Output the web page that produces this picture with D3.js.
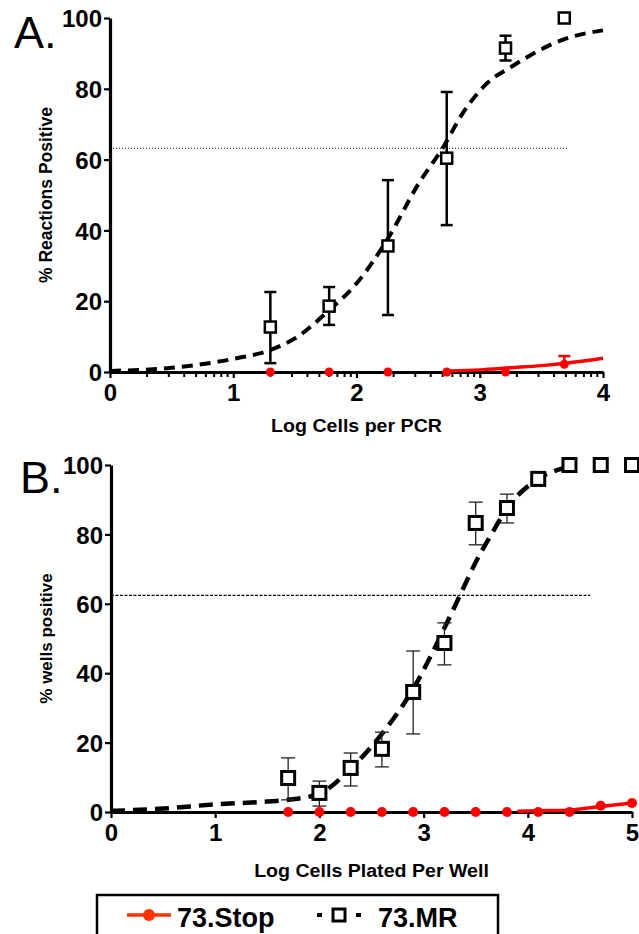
<!DOCTYPE html>
<html>
<head>
<meta charset="utf-8">
<script src="https://cdn.jsdelivr.net/npm/d3@7"></script>
<style>
  html, body { margin: 0; padding: 0; background: #fff; }
  svg { display: block; }
  text { font-family: "Liberation Sans", Arial, Helvetica, sans-serif; }
</style>
</head>
<body>
<svg id="chart" width="639" height="934"></svg>
<script>
// ---- Panel A: PCR dilution series ----
const aXTicks = [0, 1, 2, 3, 4];
const aYTicks = [0, 20, 40, 60, 80, 100];
const aLogCells = [1.301, 1.778, 2.255, 2.732, 3.209, 3.686];
const aMRMean = [12.7, 18.6, 35.6, 60.4, 91.5, 100];
const aMRLow  = [2.5, 13.3, 16.1, 41.5, 88.0, 100];
const aMRHigh = [22.6, 24.0, 54.2, 79.1, 95.0, 100];
const aStopMean = [0, 0, 0, 0, 0, 2.2];
const aStopHigh = [0, 0, 0, 0, 0, 4.5];
const aMRFitX = [0, 0.5, 1.0, 1.3, 1.5, 1.78, 2.0, 2.26, 2.5, 2.7, 2.86, 3.06, 3.27, 3.49, 3.71, 4.0];
const aMRFitY = [0.3, 1.2, 3.7, 6.2, 9.5, 17.5, 25, 38, 53, 63.3, 73, 81.6, 86.5, 91, 94.3, 96.5];
const aStopFitX = [2.75, 3.0, 3.25, 3.5, 3.7, 4.0];
const aStopFitY = [0.3, 0.6, 1.2, 1.8, 2.5, 3.9];
const aThreshold = 63.2;
const aThresholdEnd = 3.71;

// ---- Panel B: limiting-dilution plating ----
const bXTicks = [0, 1, 2, 3, 4, 5];
const bYTicks = [0, 20, 40, 60, 80, 100];
const bLogCells = [1.7, 2.0, 2.3, 2.6, 2.9, 3.2, 3.5, 3.8, 4.1, 4.4, 4.7, 5.0];
const bMRMean = [9.8, 5.5, 12.7, 18.2, 34.6, 48.7, 83.3, 87.6, 96.0, 100, 100, 100];
const bMRLow  = [3.5, 1.7, 7.5, 13.0, 22.5, 42.4, 77.0, 83.3, 94.0, 100, 100, 100];
const bMRHigh = [15.6, 8.9, 17.0, 23.0, 46.4, 54.5, 89.3, 91.6, 97.5, 100, 100, 100];
const bStopMean = [0, 0, 0, 0, 0, 0, 0, 0, 0, 0, 1.8, 2.6];
const bMRFitX = [0, 0.5, 1.0, 1.5, 1.7, 2.0, 2.3, 2.6, 2.9, 3.2, 3.35, 3.5, 3.65, 3.8, 4.1, 4.4];
const bMRFitY = [0.3, 1.0, 2.2, 3.0, 3.5, 5.3, 12.5, 22.5, 35.5, 53, 62.5, 72, 80, 87.5, 96, 99.5];
const bStopFitX = [3.9, 4.2, 4.4, 4.7, 5.0];
const bStopFitY = [0.2, 0.4, 0.6, 1.6, 2.6];
const bThreshold = 62.4;
const bThresholdEnd = 4.6;

// ---- Legend ----
const seriesNames = ["73.Stop", "73.MR"];

const RED = "#ff0000";
const LEGEND_RED = "#ff3300";
const svg = d3.select("#chart");
svg.append("rect").attr("width", 639).attr("height", 934).attr("fill", "#fff");

function drawPanel(p) {
  const g = svg.append("g");
  const x = d3.scaleLinear().domain([0, p.xMax]).range(p.xRange);
  const y = d3.scaleLinear().domain([0, 100]).range(p.yRange);

  // threshold reference line
  g.append("line")
    .attr("x1", x(0)).attr("x2", x(p.thresholdEnd))
    .attr("y1", y(p.threshold)).attr("y2", y(p.threshold))
    .attr("stroke", "#000").attr("stroke-width", p.thrWidth)
    .attr("stroke-dasharray", p.thrDash);

  // y axis
  const yAxis = g.append("g").attr("transform", `translate(${x(0)},0)`)
    .call(d3.axisLeft(y).tickValues(p.yTicks).tickFormat(d3.format("d"))
      .tickSize(6).tickSizeOuter(0).tickPadding(2));
  // x axis
  const xAxis = g.append("g").attr("transform", `translate(0,${y(0)})`)
    .call(d3.axisBottom(x).tickValues(p.xTicks).tickFormat(d3.format("d"))
      .tickSize(6).tickSizeOuter(0).tickPadding(5));
  [yAxis, xAxis].forEach(a => {
    a.select(".domain").attr("stroke", "#000").attr("stroke-width", 3.2);
    a.selectAll(".tick line").attr("stroke", "#000").attr("stroke-width", 2.2);
    a.selectAll(".tick text").attr("fill", "#000")
      .style("font-size", "24px").style("font-weight", "bold")
      .style("font-family", '"Liberation Sans", Arial, sans-serif');
  });
  yAxis.selectAll(".tick text").attr("dy", "0.36em");
  xAxis.selectAll(".tick text").attr("dy", "0.75em");

  // log-decade minor ticks
  if (p.minor) {
    const minor = [];
    p.xTicks.slice(0, -1).forEach(d => d3.range(2, 10).forEach(k => minor.push(d + Math.log10(k))));
    g.append("g").selectAll("line").data(minor).join("line")
      .attr("x1", d => x(d)).attr("x2", d => x(d))
      .attr("y1", y(0)).attr("y2", y(0) + 5)
      .attr("stroke", "#000").attr("stroke-width", 2);
  }

  // axis titles (horizontal title slightly widened like the figure's lettering)
  const cx = (p.xRange[0] + p.xRange[1]) / 2;
  g.append("text")
    .attr("transform", `translate(${cx},${p.xTitleY}) scale(1.12,1)`)
    .attr("text-anchor", "middle").style("font-size", p.xTitleSize + "px").style("font-weight", "bold")
    .text(p.xTitle);
  g.append("text")
    .attr("transform", `translate(${p.yTitleX},${(p.yRange[0] + p.yRange[1]) / 2}) rotate(-90)`)
    .attr("text-anchor", "middle").style("font-size", p.yTitleSize + "px").style("font-weight", "bold")
    .text(p.yTitle);

  // panel letter
  g.append("text").attr("x", p.letterX).attr("y", p.letterY)
    .style("font-size", "45px").text(p.letter);

  const line = d3.line().x(d => x(d[0])).y(d => y(d[1])).curve(d3.curveMonotoneX);

  // 73.MR fitted curve
  g.append("path").datum(d3.zip(p.mrFitX, p.mrFitY))
    .attr("d", line).attr("fill", "none").attr("stroke", "#000")
    .attr("stroke-width", p.fitWidth).attr("stroke-dasharray", p.fitDash);

  // 73.MR error bars
  const mr = p.logCells.map((c, i) => ({ c, m: p.mrMean[i], lo: p.mrLow[i], hi: p.mrHigh[i] }))
    .filter(d => d.hi - d.lo > 0.1);
  const eb = g.append("g").attr("stroke", p.ebColor).attr("stroke-width", p.ebWidth);
  eb.selectAll(".v").data(mr).join("line")
    .attr("x1", d => x(d.c)).attr("x2", d => x(d.c)).attr("y1", d => y(d.lo)).attr("y2", d => y(d.hi));
  eb.selectAll(".ct").data(mr).join("line")
    .attr("x1", d => x(d.c) - p.capW).attr("x2", d => x(d.c) + p.capW).attr("y1", d => y(d.hi)).attr("y2", d => y(d.hi));
  eb.selectAll(".cb").data(mr).join("line")
    .attr("x1", d => x(d.c) - p.capW).attr("x2", d => x(d.c) + p.capW).attr("y1", d => y(d.lo)).attr("y2", d => y(d.lo));

  // 73.MR markers
  g.append("g").selectAll("rect").data(p.logCells.map((c, i) => [c, p.mrMean[i]])).join("rect")
    .attr("x", d => x(d[0]) - p.sq / 2).attr("y", d => y(d[1]) - p.sq / 2)
    .attr("width", p.sq).attr("height", p.sq)
    .attr("fill", "#fff").attr("stroke", "#000").attr("stroke-width", p.sqStroke);

  // 73.Stop error bars
  if (p.stopHigh) {
    const st = p.logCells.map((c, i) => ({ c, m: p.stopMean[i], hi: p.stopHigh[i] })).filter(d => d.hi > d.m);
    const se = g.append("g").attr("stroke", RED).attr("stroke-width", 2.5);
    se.selectAll(".v").data(st).join("line")
      .attr("x1", d => x(d.c)).attr("x2", d => x(d.c)).attr("y1", d => y(d.m)).attr("y2", d => y(d.hi));
    se.selectAll(".c").data(st).join("line")
      .attr("x1", d => x(d.c) - 6).attr("x2", d => x(d.c) + 6).attr("y1", d => y(d.hi)).attr("y2", d => y(d.hi));
  }

  // 73.Stop fitted curve
  g.append("path").datum(d3.zip(p.stopFitX, p.stopFitY))
    .attr("d", line).attr("fill", "none").attr("stroke", RED).attr("stroke-width", 3.5);

  // 73.Stop markers
  g.append("g").selectAll("circle").data(p.logCells.map((c, i) => [c, p.stopMean[i]])).join("circle")
    .attr("cx", d => x(d[0])).attr("cy", d => y(d[1])).attr("r", p.dotR).attr("fill", RED);
}

drawPanel({
  letter: "A.", letterX: 14, letterY: 48,
  xMax: 4, xRange: [110, 603], yRange: [372, 18],
  xTicks: aXTicks, yTicks: aYTicks, minor: true,
  xTitle: "Log Cells per PCR", yTitle: "% Reactions Positive",
  xTitleY: 432, yTitleX: 52, xTitleSize: 17.5, yTitleSize: 17.5,
  threshold: aThreshold, thresholdEnd: aThresholdEnd, thrWidth: 1, thrDash: "1,2",
  logCells: aLogCells, mrMean: aMRMean, mrLow: aMRLow, mrHigh: aMRHigh,
  stopMean: aStopMean, stopHigh: aStopHigh,
  mrFitX: aMRFitX, mrFitY: aMRFitY, stopFitX: aStopFitX, stopFitY: aStopFitY,
  fitWidth: 4, fitDash: "11,7", ebColor: "#000", ebWidth: 2.5, capW: 6,
  sq: 11, sqStroke: 2.5, dotR: 4.5
});

drawPanel({
  letter: "B.", letterX: 20, letterY: 493,
  xMax: 5, xRange: [111, 632], yRange: [812, 465],
  xTicks: bXTicks, yTicks: bYTicks, minor: false,
  xTitle: "Log Cells Plated Per Well", yTitle: "% wells positive",
  xTitleY: 877, yTitleX: 52, xTitleSize: 17.5, yTitleSize: 17,
  threshold: bThreshold, thresholdEnd: bThresholdEnd, thrWidth: 1.3, thrDash: "3,1.5",
  logCells: bLogCells, mrMean: bMRMean, mrLow: bMRLow, mrHigh: bMRHigh,
  stopMean: bStopMean, stopHigh: null,
  mrFitX: bMRFitX, mrFitY: bMRFitY, stopFitX: bStopFitX, stopFitY: bStopFitY,
  fitWidth: 4.5, fitDash: "14,8", ebColor: "#222", ebWidth: 1.3, capW: 7,
  sq: 13, sqStroke: 3, dotR: 5
});

// legend
const lg = svg.append("g");
lg.append("rect").attr("x", 97).attr("y", 895).attr("width", 401).attr("height", 45)
  .attr("fill", "#fff").attr("stroke", "#000").attr("stroke-width", 2.5);
lg.append("line").attr("x1", 127).attr("x2", 171).attr("y1", 915).attr("y2", 915)
  .attr("stroke", LEGEND_RED).attr("stroke-width", 3.5);
lg.append("circle").attr("cx", 149).attr("cy", 915).attr("r", 6).attr("fill", LEGEND_RED);
lg.append("text").attr("x", 177).attr("y", 927).style("font-size", "27px").style("font-weight", "bold")
  .text(seriesNames[0]);
lg.append("line").attr("x1", 317).attr("x2", 361).attr("y1", 915).attr("y2", 915)
  .attr("stroke", "#000").attr("stroke-width", 4).attr("stroke-dasharray", "5,10,14,10,5");
lg.append("rect").attr("x", 333).attr("y", 909).attr("width", 12).attr("height", 12)
  .attr("fill", "#fff").attr("stroke", "#000").attr("stroke-width", 3);
lg.append("text").attr("x", 378).attr("y", 927).style("font-size", "27px").style("font-weight", "bold")
  .text(seriesNames[1]);
</script>
</body>
</html>
